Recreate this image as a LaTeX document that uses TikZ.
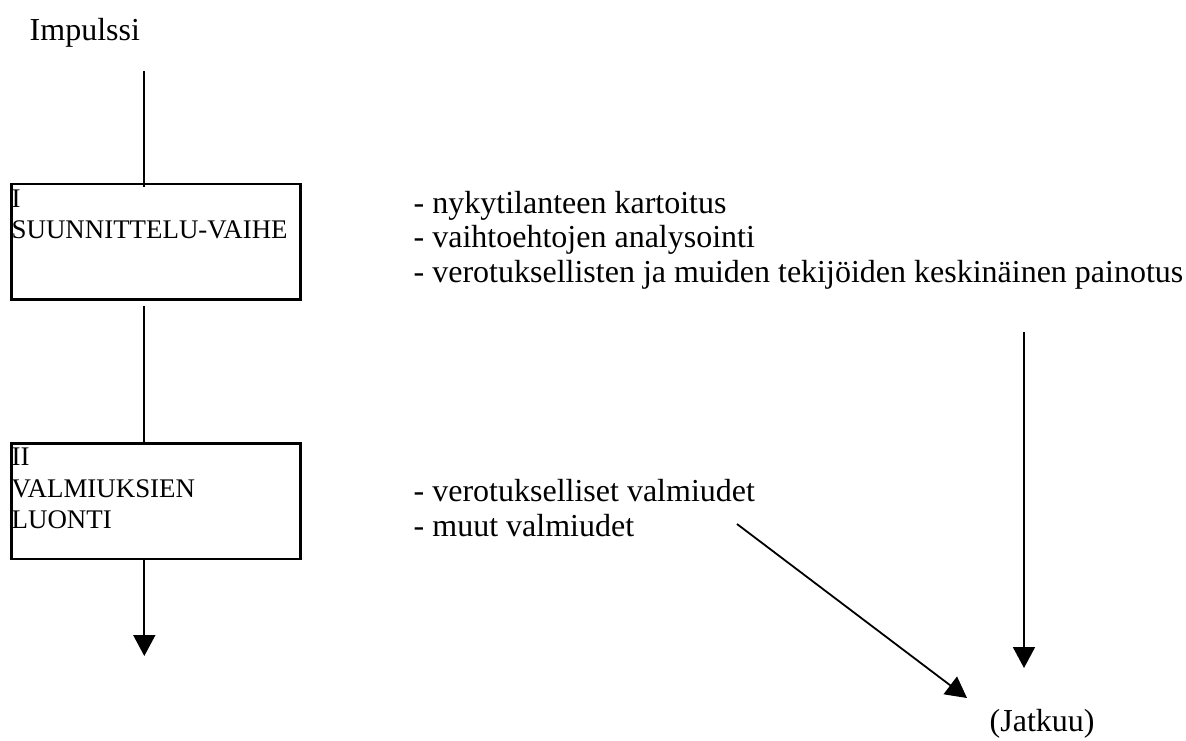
\documentclass[tikz,border=0pt]{standalone}
\usepackage{fontspec}
\setmainfont{Liberation Serif}
\usetikzlibrary{arrows.meta}
\begin{document}
\begin{tikzpicture}[x=1pt,y=-1pt,
  txt/.style={inner sep=0pt,anchor=base west,font=\fontsize{32}{34}\selectfont},
  boxtxt/.style={inner sep=0pt,anchor=base west,font=\fontsize{26.9}{31}\selectfont},
  phasebox/.style={draw,line width=2.6pt,rectangle,inner sep=0pt,anchor=north west,minimum width=289pt,minimum height=115.5pt},
  conn/.style={line width=1.8pt},
  arr/.style={line width=1.8pt,-{Triangle[width=22pt,length=21pt]}}]
\useasboundingbox (0,0) rectangle (1186,740);
% left column
\node[txt] (imp) at (29.5,40) {Impulssi};
\node[phasebox] (b1) at (10,182.5) {};
\node[boxtxt] (b1a) at (11.5,207) {I};
\node[boxtxt] (b1b) at (11.5,238) {SUUNNITTELU-VAIHE};
\node[phasebox] (b2) at (10,442) {};
\node[boxtxt] (b2a) at (11.5,465) {II};
\node[boxtxt] (b2b) at (11.5,497) {VALMIUKSIEN};
\node[boxtxt] (b2c) at (11.5,528) {LUONTI};
\coordinate (l1s) at (144.3,71);
\coordinate (l1e) at (144.3,187);
\coordinate (l2s) at (144.3,306);
\coordinate (l3e) at (144.3,656);
\draw[conn] (l1s) -- (l1e);
\draw[conn] (l2s) -- (b2.north -| l2s);
\draw[arr] (b2.south -| l3e) -- (l3e);
% right texts
\node[txt] (t1) at (413.5,213) {- nykytilanteen kartoitus};
\node[txt] (t2) at (413.5,247.5) {- vaihtoehtojen analysointi};
\node[txt] (t3) at (413.5,282) {- verotuksellisten ja muiden tekijöiden keskinäinen painotus};
\node[txt] (t4) at (413.5,501) {- verotukselliset valmiudet};
\node[txt] (t5) at (413.5,536) {- muut valmiudet};
\node[txt] (jat) at (989.5,731) {(Jatkuu)};
\coordinate (r1s) at (1024,332);
\coordinate (r1e) at (1024,668);
\coordinate (d1s) at (737,524);
\coordinate (d1e) at (967,698);
\draw[arr] (r1s) -- (r1e);
\draw[arr] (d1s) -- (d1e);
\end{tikzpicture}
\end{document}
